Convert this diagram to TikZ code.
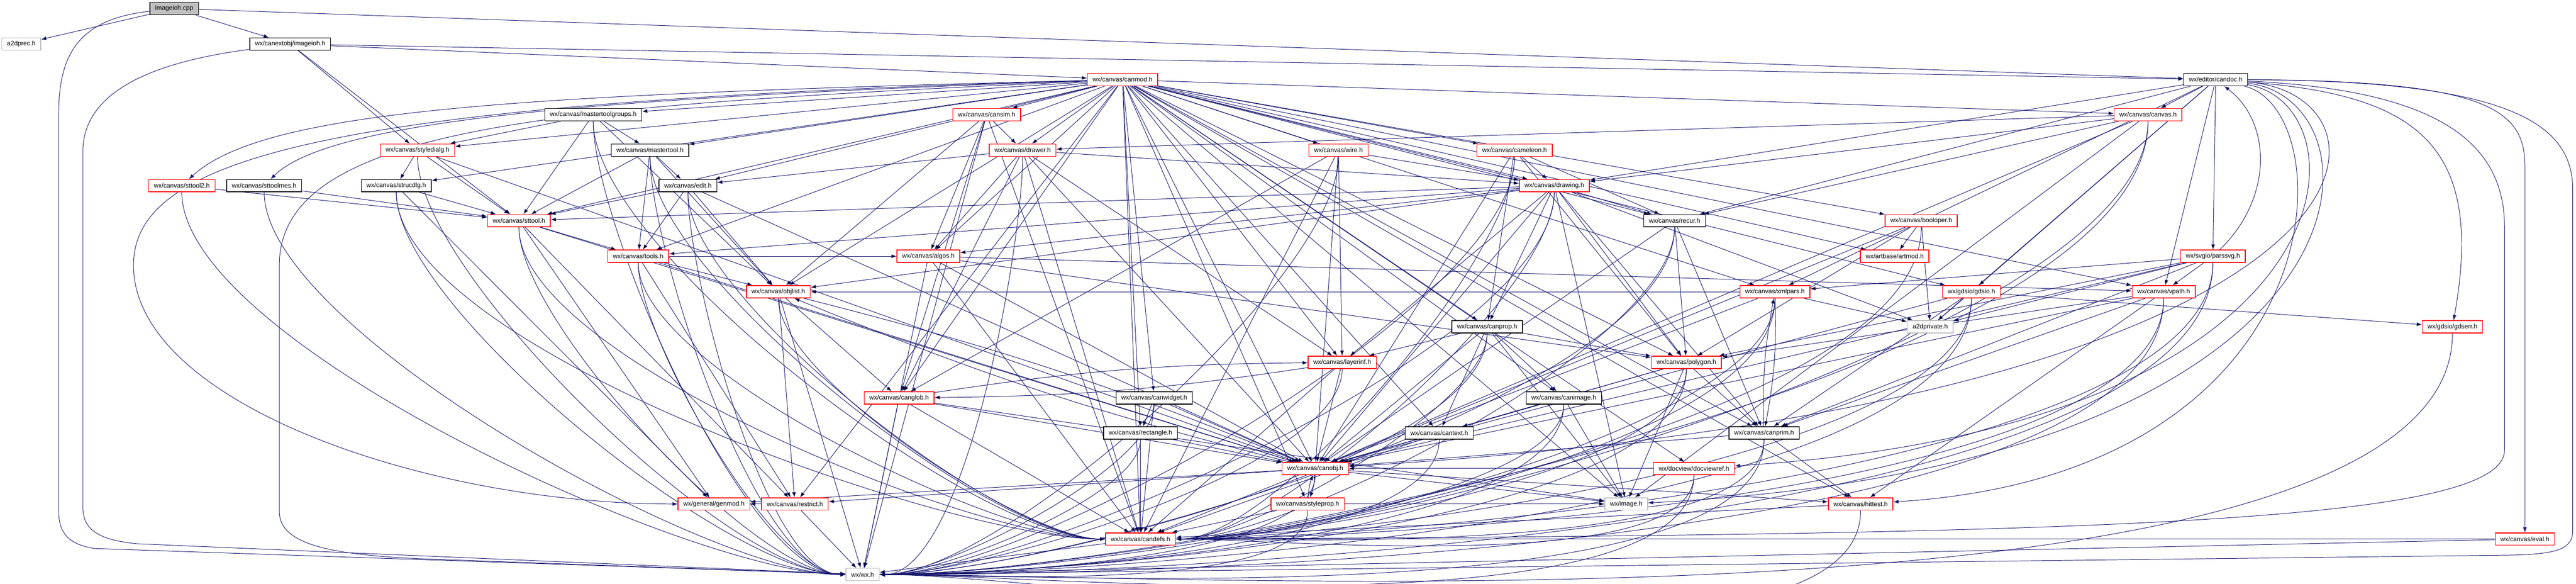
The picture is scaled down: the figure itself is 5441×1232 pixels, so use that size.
\documentclass[tikz,border=0pt]{standalone}
\usepackage{fontspec}
\setmainfont{Liberation Sans}
\usetikzlibrary{arrows.meta}
\definecolor{edgeblue}{HTML}{191970}
\definecolor{greyborder}{HTML}{BFBFBF}
\pgfdeclarelayer{bg}
\pgfsetlayers{bg,main}

\begin{document}
\begin{tikzpicture}[x=0.01cm, y=-0.01cm,
  hdr/.style={draw=black, line width=0.45pt, fill=white, font=\fontsize{3.85pt}{4.6pt}\selectfont, inner xsep=0.11cm, inner ysep=0pt, minimum height=0.26cm},
  trunc/.style={hdr, draw=red},
  undoc/.style={hdr, draw=greyborder},
  inc/.style={draw=edgeblue, line width=0.3pt, -{Latex[length=0.11cm,width=0.08cm]}},
  toright/.style={out=-90, in=0, looseness=0.5},
  toleft/.style={out=-90, in=180, looseness=0.5}]
  \useasboundingbox (0,0) rectangle (5441,1232);

  \node[hdr, fill=greyborder] (cpp) at (368,18) {imageioh.cpp};
  \node[undoc] (a2dprec) at (45,93) {a2dprec.h};
  \node[hdr] (imgh) at (613,93) {wx/canextobj/imageioh.h};
  \node[trunc] (canmod) at (2371,168) {wx/canvas/canmod.h};
  \node[hdr] (candoc) at (4680,168) {wx/editor/candoc.h};
  \node[hdr] (mtg) at (1253,242) {wx/canvas/mastertoolgroups.h};
  \node[trunc] (cansim) at (2084,242) {wx/canvas/cansim.h};
  \node[trunc] (canvas) at (4537,242) {wx/canvas/canvas.h};
  \node[trunc] (styledialg) at (882,317) {wx/canvas/styledialg.h};
  \node[hdr] (mastertool) at (1373,317) {wx/canvas/mastertool.h};
  \node[trunc] (drawer) at (2160,317) {wx/canvas/drawer.h};
  \node[trunc] (wire) at (2827,317) {wx/canvas/wire.h};
  \node[trunc] (cameleon) at (3199,317) {wx/canvas/cameleon.h};
  \node[trunc] (sttool2) at (384,392) {wx/canvas/sttool2.h};
  \node[hdr] (sttoolmes) at (558,392) {wx/canvas/sttoolmes.h};
  \node[hdr] (strucdlg) at (837,392) {wx/canvas/strucdlg.h};
  \node[hdr] (edit) at (1453,392) {wx/canvas/edit.h};
  \node[trunc] (drawing) at (3283,392) {wx/canvas/drawing.h};
  \node[trunc] (sttool) at (1096,466) {wx/canvas/sttool.h};
  \node[hdr] (recur) at (3537,466) {wx/canvas/recur.h};
  \node[trunc] (booloper) at (4058,466) {wx/canvas/booloper.h};
  \node[trunc] (tools) at (1348,541) {wx/canvas/tools.h};
  \node[trunc] (algos) at (1961,541) {wx/canvas/algos.h};
  \node[trunc] (artmod) at (4002,541) {wx/artbase/artmod.h};
  \node[trunc] (parssvg) at (4674,541) {wx/svgio/parssvg.h};
  \node[trunc] (objlist) at (1644,616) {wx/canvas/objlist.h};
  \node[trunc] (xmlpars) at (3749,616) {wx/canvas/xmlpars.h};
  \node[trunc] (gdsio) at (4164,616) {wx/gdsio/gdsio.h};
  \node[trunc] (vpath) at (4570,616) {wx/canvas/vpath.h};
  \node[hdr] (canprop) at (3141,690) {wx/canvas/canprop.h};
  \node[undoc] (a2dprivate) at (4077,690) {a2dprivate.h};
  \node[trunc] (gdserr) at (5180,690) {wx/gdsio/gdserr.h};
  \node[trunc] (layerinf) at (2835,765) {wx/canvas/layerinf.h};
  \node[trunc] (polygon) at (3562,765) {wx/canvas/polygon.h};
  \node[trunc] (canglob) at (1899,840) {wx/canvas/canglob.h};
  \node[hdr] (canwidget) at (2438,840) {wx/canvas/canwidget.h};
  \node[hdr] (canimage) at (3303,840) {wx/canvas/canimage.h};
  \node[hdr] (rectangle) at (2409,914) {wx/canvas/rectangle.h};
  \node[hdr] (cantext) at (3040,914) {wx/canvas/cantext.h};
  \node[hdr] (canprim) at (3726,914) {wx/canvas/canprim.h};
  \node[trunc] (canobj) at (2778,989) {wx/canvas/canobj.h};
  \node[trunc] (docviewref) at (3578,989) {wx/docview/docviewref.h};
  \node[trunc] (genmod) at (1508,1064) {wx/general/genmod.h};
  \node[trunc] (restrict) at (1679,1064) {wx/canvas/restrict.h};
  \node[trunc] (styleprop) at (2762,1064) {wx/canvas/styleprop.h};
  \node[undoc] (image) at (3435,1064) {wx/image.h};
  \node[trunc] (hittest) at (3930,1064) {wx/canvas/hittest.h};
  \node[trunc] (candefs) at (2409,1138) {wx/canvas/candefs.h};
  \node[trunc] (eval) at (5333,1138) {wx/canvas/eval.h};
  \node[undoc] (wxh) at (1822,1213) {wx/wx.h};

  \begin{pgfonlayer}{bg}
  \draw[inc] (cpp) edge (a2dprec) edge (imgh) edge (candoc);
  \draw[inc] (cpp) .. controls (170,40) and (124,110) .. (124,240) -- (124,1080) .. controls (124,1130) and (150,1150) .. (200,1158) -- (wxh);
  \draw[inc] (imgh) edge (canmod) edge (candoc) edge (styledialg) edge (sttool);
  \draw[inc] (imgh) .. controls (330,130) and (175,190) .. (175,320) -- (175,1070) .. controls (175,1120) and (210,1140) .. (290,1148) -- (wxh);

  \draw[inc] (canmod) edge (mtg) edge (cansim) edge (drawer) edge (mastertool) edge (edit) edge (styledialg) edge (strucdlg) edge (sttool) edge (tools) edge (algos) edge (objlist) edge (wire) edge (cameleon) edge (drawing) edge (canvas) edge (recur) edge (booloper) edge (artmod) edge (xmlpars) edge (gdsio) edge (vpath) edge (canprop) edge (layerinf) edge (polygon) edge (canglob) edge (canwidget) edge (canimage) edge (rectangle) edge (cantext) edge (canprim) edge (canobj) edge (docviewref) edge (restrict) edge (styleprop) edge (image) edge (hittest) edge (candefs);
  \draw[inc] (canmod) .. controls (1100,200) and (560,230) .. (sttool2);
  \draw[inc] (canmod) .. controls (1300,205) and (700,250) .. (sttoolmes);
  \draw[inc] (canmod) .. controls (700,215) and (282,330) .. (282,560) .. controls (282,850) and (900,1064) .. (genmod);
  \draw[inc] (canmod) .. controls (1200,222) and (590,260) .. (590,560) -- (590,1080) .. controls (590,1150) and (700,1172) .. (900,1180) -- (wxh);

  \draw[inc] (candoc) edge (canvas) edge (parssvg) edge (vpath) edge (gdsio) edge (a2dprivate) edge (xmlpars) edge (drawing) edge (recur);
  \draw[inc] (candoc) .. controls (5300,170) and (5434,260) .. (5434,400) -- (5434,1120) .. controls (5434,1160) and (5400,1170) .. (5300,1172) -- (wxh);
  \draw[inc] (candoc) .. controls (5250,170) and (5333,230) .. (5333,350) -- (eval);
  \draw[inc] (candoc) .. controls (5100,200) and (5250,300) .. (gdserr);
  \draw[inc] (candoc) .. controls (5150,190) and (5290,300) .. (5290,480) -- (5290,950) .. controls (5290,1100) and (4500,1130) .. (candefs);
  \draw[inc] (candoc) .. controls (5100,200) and (5100,850) .. (canobj);
  \draw[inc] (candoc) .. controls (5050,210) and (5060,980) .. (image);
  \draw[inc] (candoc) .. controls (5000,220) and (5000,900) .. (docviewref);
  \draw[inc] (candoc) .. controls (4950,230) and (4950,1000) .. (hittest);

  \draw[inc] (parssvg) edge (vpath) edge (xmlpars) edge (canprim) edge (a2dprivate) edge (polygon) edge (canobj) edge[toright] (candefs) edge[toright] (wxh);
  \draw[inc] (parssvg) .. controls (4800,420) and (4800,260) .. (candoc);
  \draw[inc] (mtg) edge (styledialg) edge (mastertool) edge (sttool) edge (objlist) edge[toleft] (candefs) edge[toleft] (wxh);
  \draw[inc] (cansim) edge (drawer) edge (algos) edge (canglob) edge (candefs) edge (objlist) edge (wxh);
  \draw[inc] (canvas) edge (drawer) edge (drawing) edge (recur) edge (canobj) edge (image) edge[toright] (candefs) edge[toright] (wxh);
  \draw[inc] (styledialg) edge (strucdlg) edge (sttool) edge (canobj) edge[toleft] (wxh);
  \draw[inc] (mastertool) edge (edit) edge (sttool) edge (objlist) edge (tools) edge[toleft] (candefs) edge[toleft] (wxh);
  \draw[inc] (drawer) edge (drawing) edge (edit) edge (algos) edge (canglob) edge (layerinf) edge (canobj) edge (candefs) edge[toright] (wxh);
  \draw[inc] (wire) edge (drawing) edge (canglob) edge (layerinf) edge (canobj) edge (candefs) edge[toright] (wxh);
  \draw[inc] (cameleon) edge (drawing) edge (recur) edge (canprop) edge (polygon) edge (canobj) edge[toright] (candefs) edge[toright] (wxh);
  \draw[inc] (sttool2) edge (sttool) edge[toleft] (wxh);
  \draw[inc] (sttoolmes) edge (sttool) edge[toleft] (wxh);
  \draw[inc] (strucdlg) edge (sttool) edge (genmod) edge[toleft] (candefs) edge[toleft] (wxh);
  \draw[inc] (edit) edge (sttool) edge (objlist) edge (tools) edge (canobj) edge[toleft] (candefs) edge[toleft] (wxh);
  \draw[inc] (drawing) edge (recur) edge (sttool) edge (tools) edge (algos) edge (objlist) edge (layerinf) edge (canprop) edge (polygon) edge (canprim) edge (canobj) edge (image) edge (a2dprivate) edge[toright] (candefs) edge[toright] (wxh);
  \draw[inc] (sttool) edge (tools) edge (restrict) edge (genmod) edge (canobj) edge[toleft] (candefs) edge[toleft] (wxh);
  \draw[inc] (recur) edge (polygon) edge (canprim) edge (canobj) edge[toright] (candefs) edge[toright] (wxh);
  \draw[inc] (booloper) edge (artmod) edge (a2dprivate) edge (polygon) edge (canobj) edge[toright] (wxh);
  \draw[inc] (tools) edge (algos) edge (objlist) edge (restrict) edge (canobj) edge[toleft] (candefs) edge[toleft] (wxh);
  \draw[inc] (algos) edge (polygon) edge (vpath) edge (canobj) edge (candefs) edge (wxh);
  \draw[inc] (objlist) edge (canglob) edge (restrict) edge[bend left=4] (canobj) edge[toleft] (candefs) edge (wxh);
  \draw[inc] (xmlpars) edge (objlist) edge (a2dprivate) edge[bend left=6] (canprim) edge (canobj) edge[toright] (candefs) edge[toright] (wxh);
  \draw[inc] (gdsio) edge (a2dprivate) edge (gdserr) edge (canprim) edge (canobj) edge[toright] (candefs) edge[toright] (wxh);
  \draw[inc] (vpath) edge (polygon) edge (canprim) edge (hittest) edge (canobj) edge[toright] (candefs) edge[toright] (wxh);
  \draw[inc] (canprop) edge (layerinf) edge (polygon) edge (canimage) edge (cantext) edge (canobj) edge (image) edge[toright] (candefs) edge[toright] (wxh);
  \draw[inc] (layerinf) edge[bend left=4] (canglob) edge (canobj) edge (candefs) edge[toright] (wxh);
  \draw[inc] (canglob) edge[bend left=4] (layerinf) edge (canobj) edge (image) edge (candefs) edge (wxh);
  \draw[inc] (polygon) edge (cantext) edge (canprim) edge (canobj) edge (image) edge[toright] (candefs) edge[toright] (wxh);
  \draw[inc] (canwidget) edge (rectangle) edge (canobj) edge (candefs) edge[toright] (wxh);
  \draw[inc] (canimage) edge (canobj) edge (image) edge[toright] (candefs) edge[toright] (wxh);
  \draw[inc] (rectangle) edge (canobj) edge (candefs) edge[toright] (wxh);
  \draw[inc] (cantext) edge (canobj) edge (candefs) edge[toright] (wxh);
  \draw[inc] (canprim) edge[bend left=6] (xmlpars) edge (canobj) edge (hittest) edge[toright] (candefs) edge[toright] (wxh);
  \draw[inc] (canobj) edge[bend left=8] (styleprop) edge[bend left=4] (objlist) edge (image) edge (hittest) edge (restrict) edge (genmod) edge (candefs) edge[toright] (wxh);
  \draw[inc] (docviewref) edge (canobj) edge[toright] (candefs) edge[toright] (wxh);
  \draw[inc] (restrict) edge (genmod) edge (wxh);
  \draw[inc] (styleprop) edge[bend left=8] (canobj) edge (image) edge (candefs) edge[toright] (wxh);
  \draw[inc] (hittest) edge (candefs) edge[toright] (wxh);
  \draw[inc] (candefs) edge (wxh);
  \draw[inc] (eval) edge (candefs) edge (wxh);
  \draw[inc] (gdserr) edge[toright] (wxh);
  \end{pgfonlayer}
\end{tikzpicture}
\end{document}
